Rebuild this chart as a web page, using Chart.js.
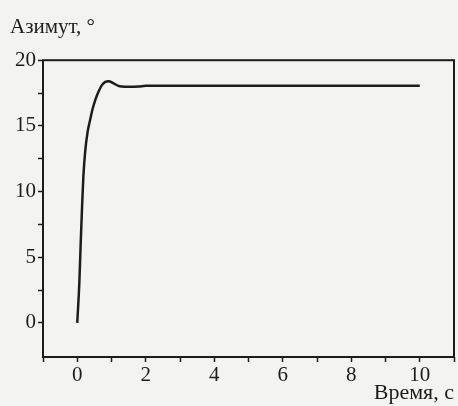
<!DOCTYPE html>
<html>
<head>
<meta charset="utf-8">
<script src="https://cdn.jsdelivr.net/npm/chart.js@4"></script>
<style>
  html, body { margin: 0; padding: 0; background: #f3f3f1; }
  #wrap { width: 458px; height: 406px; }
</style>
</head>
<body>
<div id="wrap"><canvas id="c"></canvas></div>
<script>
// переходная характеристика по азимуту
const time = [0, 0.06, 0.1, 0.14, 0.18, 0.23, 0.3, 0.38, 0.45, 0.53, 0.62, 0.72, 0.82, 0.92, 1.05, 1.2, 1.3, 1.5, 1.8, 2.0, 3, 5, 7, 10];
const azimuth = [0, 3, 6, 8.8, 11.2, 13, 14.5, 15.5, 16.3, 17.0, 17.6, 18.1, 18.35, 18.4, 18.25, 18.05, 18.0, 17.98, 18.0, 18.05, 18.05, 18.05, 18.05, 18.05];
const yLabels = [0, 5, 10, 15, 20];
const xLabels = [0, 2, 4, 6, 8, 10];

const ink = '#1c1c1c';
const serif = "'Liberation Serif', 'DejaVu Serif', serif";

// рамка вокруг области графика
const frame = {
  id: 'frame',
  afterDraw(chart) {
    const { ctx, chartArea: a } = chart;
    ctx.save();
    ctx.strokeStyle = ink;
    ctx.lineWidth = 2;
    ctx.strokeRect(a.left, a.top, a.right - a.left, a.bottom - a.top);
    ctx.restore();
  },
};

new Chart(document.getElementById('c'), {
  type: 'scatter',
  data: {
    datasets: [{
      data: time.map((t, i) => ({ x: t, y: azimuth[i] })),
      showLine: true, borderColor: ink, borderWidth: 2.5,
      pointRadius: 0, cubicInterpolationMode: 'monotone',
    }],
  },
  options: {
    responsive: true, maintainAspectRatio: false, animation: false,
    layout: { padding: { left: 10, right: 4, top: 0, bottom: 0 } },
    plugins: {
      legend: { display: false }, tooltip: { enabled: false },
      title: {
        display: true, text: 'Азимут, °', align: 'start', color: ink,
        font: { family: serif, size: 21, weight: 'normal' },
        padding: { top: 15, bottom: 20 },
      },
    },
    scales: {
      x: {
        type: 'linear', min: -1, max: 11,
        grid: { drawOnChartArea: false, drawTicks: true, tickLength: 5, tickColor: ink, tickWidth: 1.5 },
        border: { display: false },
        ticks: {
          stepSize: 1, color: ink, padding: 1, maxRotation: 0, autoSkip: false,
          font: { family: serif, size: 21 },
          callback: (v) => (xLabels.includes(v) ? String(v) : ''),
        },
        title: {
          display: true, text: 'Время, с', align: 'end', color: ink,
          font: { family: serif, size: 22 }, padding: { top: 0, bottom: 0 },
        },
        afterFit: (s) => { s.height = 49; },
      },
      y: {
        type: 'linear', min: -2.6, max: 20,
        grid: { drawOnChartArea: false, drawTicks: true, tickLength: 5, tickColor: ink, tickWidth: 1.5 },
        border: { display: false },
        ticks: {
          stepSize: 2.5, color: ink, padding: 2, autoSkip: false,
          font: { family: serif, size: 21 },
          callback: (v) => (yLabels.includes(v) ? String(v) : ''),
        },
        afterBuildTicks: (s) => {
          s.ticks = [];
          for (let v = 0; v <= 20; v += 2.5) s.ticks.push({ value: v });
        },
        afterFit: (s) => { s.width = 33; },
      },
    },
  },
  plugins: [frame],
});
</script>
</body>
</html>
